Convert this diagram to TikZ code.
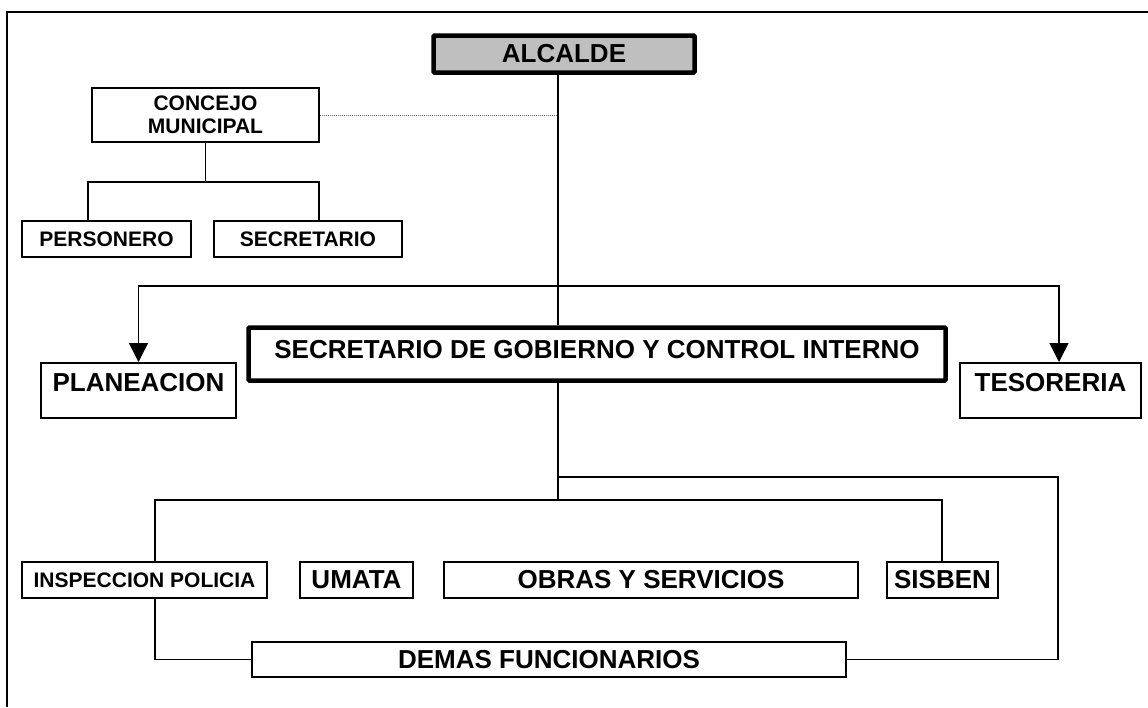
\documentclass[tikz,border=0pt]{standalone}
\usepackage{fontspec}
\setmainfont{Liberation Sans}
\usetikzlibrary{arrows.meta}
\newcommand{\orgbig}{\fontsize{26}{30}\selectfont\bfseries}
\newcommand{\orgsmall}{\fontsize{21}{23}\selectfont\bfseries}
\tikzset{unitbox/.style={draw,line width=2pt,inner sep=0pt,font=\orgbig,minimum height=36pt},
  smallbox/.style={unitbox,font=\orgsmall},
  tallbox/.style={unitbox,text height=28pt,text depth=27pt},
  headbox/.style={draw,line width=4.5pt,inner sep=0pt,font=\orgbig,rounded corners=1pt},
  link/.style={line width=1.5pt}}

\begin{document}
\begin{tikzpicture}[x=1pt,y=-1pt,>={Triangle[length=19pt,width=19pt]}]
        \useasboundingbox (0,0) rectangle (1148,707);
        \draw[line width=2pt] (1148,12) -- (7,12) -- (7,707);

        \node[headbox,fill=black!25,minimum width=261pt,minimum height=37pt] (alcalde) at (564,54) {ALCALDE};
        \node[smallbox,align=center,minimum width=227pt,minimum height=54pt] (concejo) at (205.5,115) {CONCEJO\\MUNICIPAL};
        \node[smallbox,minimum width=169pt] (personero) at (106.5,239) {PERSONERO};
        \node[smallbox,minimum width=188pt] (secretario) at (308,239) {SECRETARIO};
        \node[tallbox,minimum width=195pt] (planeacion) at (138.5,390.5) {PLANEACION};
        \node[tallbox,minimum width=181pt] (tesoreria) at (1050.5,390.5) {TESORERIA};
        \node[headbox,minimum width=697pt,text height=30.5pt,text depth=22.5pt] (secgob) at (597,354) {SECRETARIO DE GOBIERNO Y CONTROL INTERNO};
        \node[smallbox,minimum width=245pt] (inspeccion) at (144.5,580) {INSPECCION POLICIA};
        \node[unitbox,minimum width=113pt] (umata) at (356.5,580) {UMATA};
        \node[unitbox,minimum width=414pt] (obras) at (651,580) {OBRAS Y SERVICIOS};
        \node[unitbox,minimum width=111pt] (sisben) at (942.5,580) {SISBEN};
        \node[unitbox,minimum width=594pt,minimum height=35pt] (demas) at (549,659.5) {DEMAS FUNCIONARIOS};

        \coordinate (spine) at (558,286);
        \coordinate (cl) at (88,182);
        \coordinate (cr) at (319,182);
        \coordinate (bl) at (155,500);
        \coordinate (br) at (942,500);
        \coordinate (rk) at (1058,477);

        \draw[link] (alcalde.south -| spine) -- (secgob.north -| spine);
        \draw[densely dotted,line width=1pt,black!60] (concejo.east) -- (concejo.east -| spine);
        \draw[link,->] (spine) -| (planeacion.north);
        \draw[link,->] (spine) -| ([xshift=8.5pt]tesoreria.north);
        \draw[link] (concejo.south) -- (concejo.south |- cl);
        \draw[link] (cl |- personero.north) -- (cl) -- (cr) -- (cr |- secretario.north);
        \draw[link] (secgob.south -| spine) -- (spine |- bl);
        \draw[link] (bl |- inspeccion.north) -- (bl) -- (br) -- (br |- sisben.north);
        \draw[link] (spine |- rk) -- (rk) |- (demas.east);
        \draw[link] (inspeccion.south -| bl) |- (demas.west);
    \end{tikzpicture}
\end{document}
